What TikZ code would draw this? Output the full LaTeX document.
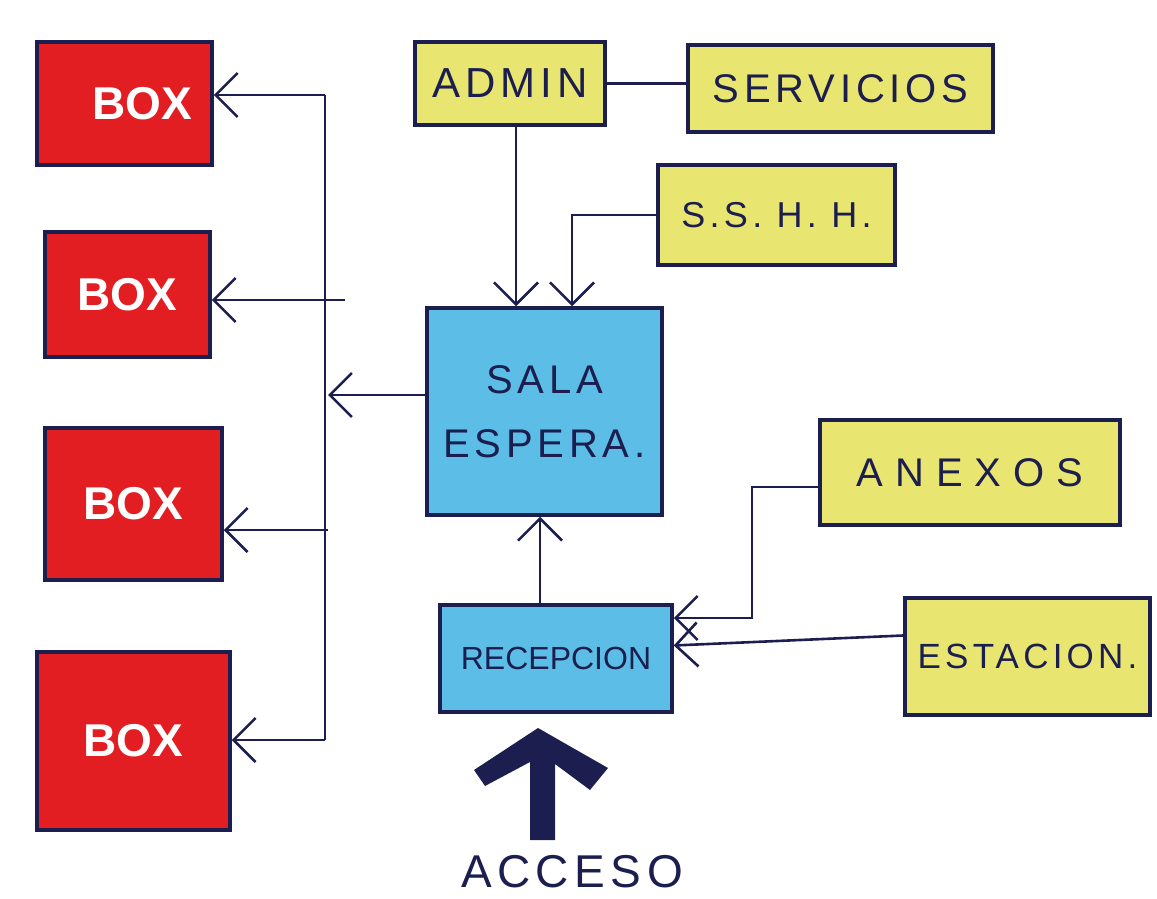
\documentclass[tikz,border=0pt]{standalone}
\usepackage{fontspec}
\setmainfont{Liberation Sans}
\newfontfamily\hand[LetterSpace=12]{Liberation Sans}
\newfontfamily\handwide[LetterSpace=30]{Liberation Sans}
\usetikzlibrary{arrows.meta}
\definecolor{ink}{RGB}{28,30,80}
\definecolor{boxred}{RGB}{226,30,34}
\definecolor{paleyel}{RGB}{232,229,112}
\definecolor{skyblue}{RGB}{92,190,230}
\begin{document}
\begin{tikzpicture}[x=1pt,y=-1pt,
  base/.style={draw=ink, line width=3.5pt, inner sep=0pt, text=ink},
  redbox/.style={base, fill=boxred, text=white, font=\fontsize{46}{50}\selectfont\bfseries},
  yelbox/.style={base, fill=paleyel},
  bluebox/.style={base, fill=skyblue},
  link/.style={draw=ink, line width=2.6pt},
  arr/.style={link, -{Straight Barb[length=22pt,width=44pt,line width=2.6pt]}},
]
\useasboundingbox (0,0) rectangle (1157,899);

% red boxes
\node[redbox, minimum width=175pt, minimum height=123pt] (b1) at (124.5,103.5) {\hspace*{36pt}BOX};
\node[redbox, minimum width=165pt, minimum height=125pt] (b2) at (127.5,294.5) {BOX};
\node[redbox, minimum width=177pt, minimum height=152pt] (b3) at (133.5,504) {BOX};
\node[redbox, minimum width=193pt, minimum height=178pt] (b4) at (133.5,741) {BOX};

% yellow / blue boxes
\node[yelbox, minimum width=190pt, minimum height=83pt, font=\hand\fontsize{42}{46}\selectfont] (admin) at (510,83.5) {ADMIN};
\node[yelbox, minimum width=305pt, minimum height=87pt, font=\hand\fontsize{40}{44}\selectfont] (serv) at (840.5,88.5) {SERVICIOS};
\node[yelbox, minimum width=237pt, minimum height=100pt, font=\hand\fontsize{36}{40}\selectfont] (sshh) at (776.5,215) {S.S. H. H.};
\node[bluebox, minimum width=235pt, minimum height=207pt, align=center, font=\hand\fontsize{40}{64}\selectfont] (sala) at (544.5,411.5) {SALA\\ESPERA.};
\node[yelbox, minimum width=300pt, minimum height=105pt, font=\handwide\fontsize{40}{44}\selectfont] (anexos) at (970,472.5) {ANEXOS};
\node[bluebox, minimum width=232pt, minimum height=107pt, font=\fontsize{32}{36}\selectfont] (recep) at (556,658.5) {RECEPCION};
\node[yelbox, minimum width=245pt, minimum height=117pt, font=\hand\fontsize{35}{40}\selectfont] (estac) at (1027.5,656.5) {ESTACION.};
\node[text=ink, inner sep=0pt, font=\hand\fontsize{46}{50}\selectfont] (acceso) at (572,872) {ACCESO};

% bus to the boxes
\coordinate (bt) at (325,95);
\coordinate (bb) at (325,740);
\coordinate (k2) at (345,300);
\coordinate (k3) at (328,530);
\coordinate (jn) at (328,395);
\draw[link] (bt) -- (bb);
\draw[arr] (bt) -- (bt -| b1.east);
\draw[arr] (k2) -- (k2 -| b2.east);
\draw[arr] (k3) -- (k3 -| b3.east);
\draw[arr] (bb) -- (bb -| b4.east);
\draw[arr] (sala.west |- jn) -- (jn);

% top connectors
\draw[link] (admin.east) -- (admin.east -| serv.west);
\draw[arr] ([xshift=6pt]admin.south) -- ([xshift=6pt]admin.south |- sala.north);
\coordinate (sk) at (572,215);
\draw[arr] (sshh.west) -- (sk) -- (sk |- sala.north);

% lower connectors
\draw[arr] ([xshift=-16pt]recep.north) -- ([xshift=-16pt]recep.north |- sala.south);
\coordinate (ak) at (752,487);
\coordinate (ak2) at (752,618);
\draw[arr] (anexos.west |- ak) -- (ak) -- (ak2) -- (ak2 -| recep.east);
\draw[arr] ([yshift=21pt]estac.west) -- ([yshift=13pt]recep.east);

% access arrow
\fill[ink] (538,728) -- (608,768) -- (590,790) -- (555,764) -- (555,840) -- (530,840)
  -- (530,762) -- (485,786) -- (474,770) -- cycle;
\end{tikzpicture}
\end{document}
